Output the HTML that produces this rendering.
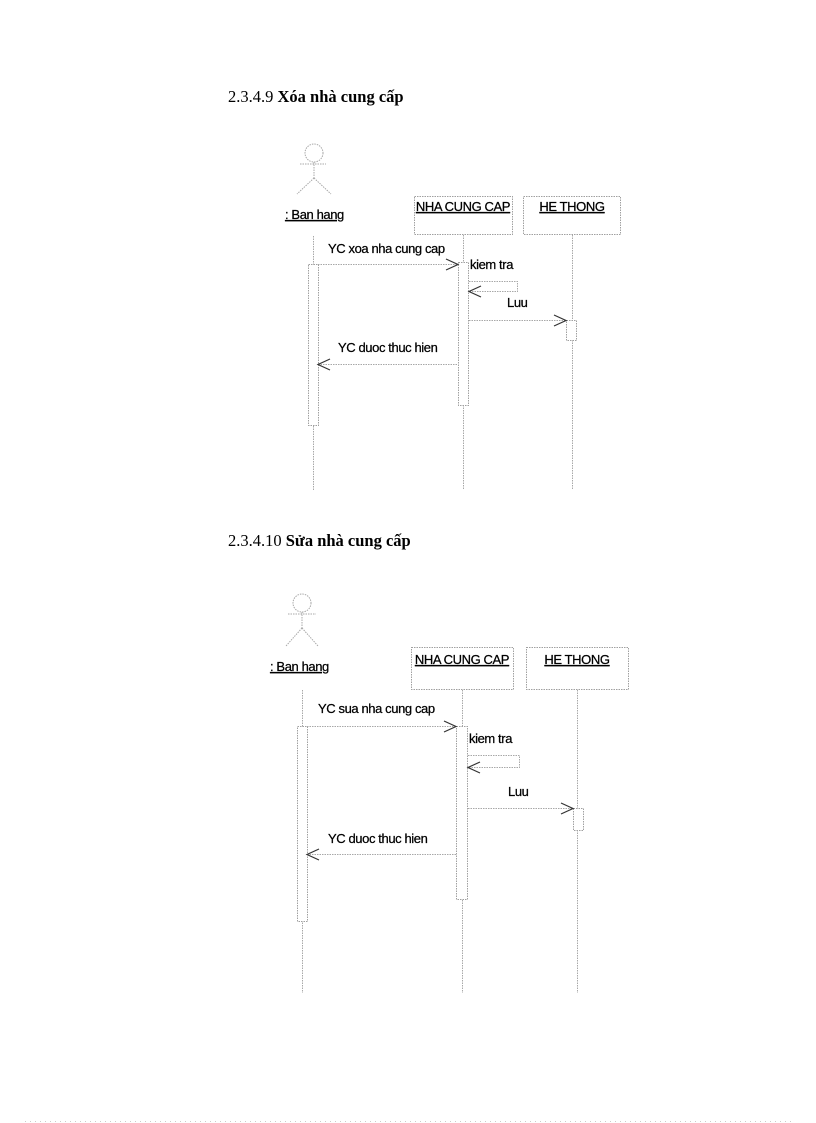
<!DOCTYPE html>
<html><head><meta charset="utf-8"><style>
html,body{margin:0;padding:0;background:#fff;}
svg{display:block;}
.l{stroke:#a8a8a8;stroke-width:1;fill:none;stroke-dasharray:1.5 1;}
.b{stroke:#a0a0a0;stroke-width:1;fill:#fff;stroke-dasharray:1.5 1;}
.a{stroke:#333;stroke-width:1.2;fill:none;}
.t{font-family:"Liberation Sans",Arial,sans-serif;font-size:13px;fill:#000;stroke:#000;stroke-width:0.25;letter-spacing:-0.4px;}
.h{font-family:"Liberation Serif","DejaVu Serif",serif;font-size:16.5px;fill:#000;}
</style></head><body>
<svg width="816" height="1123" viewBox="0 0 816 1123" xmlns="http://www.w3.org/2000/svg">
<text class="h" x="228" y="102">2.3.4.9 <tspan font-weight="bold">Xóa nhà cung cấp</tspan></text>
<text class="h" x="228" y="546">2.3.4.10 <tspan font-weight="bold">Sửa nhà cung cấp</tspan></text>

<g>
<circle class="l" cx="314" cy="153" r="9"/>
<line class="l" x1="300" y1="164" x2="326" y2="164"/>
<line class="l" x1="314" y1="162" x2="314" y2="178"/>
<line class="l" x1="314" y1="178" x2="297" y2="194"/>
<line class="l" x1="314" y1="178" x2="331" y2="194"/>
<text class="t" x="285" y="219" text-decoration="underline">: Ban hang</text>
<rect class="b" x="414.5" y="196.5" width="98" height="38"/>
<rect class="b" x="523.5" y="196.5" width="97" height="38"/>
<text class="t" x="463" y="211" text-anchor="middle" text-decoration="underline">NHA CUNG CAP</text>
<text class="t" x="572" y="211" text-anchor="middle" text-decoration="underline">HE THONG</text>
<line class="l" x1="313.5" y1="236" x2="313.5" y2="490"/>
<line class="l" x1="463.5" y1="235" x2="463.5" y2="490"/>
<line class="l" x1="572.5" y1="235" x2="572.5" y2="490"/>
<rect class="b" x="308.5" y="264.5" width="10" height="161"/>
<rect class="b" x="458.5" y="262.5" width="10" height="143"/>
<rect class="b" x="566.5" y="320.5" width="10" height="20"/>
<line class="l" x1="318" y1="264.5" x2="458" y2="264.5"/>
<path class="a" d="M446 259 L458 264.5 L446 270"/>
<text class="t" x="328" y="253">YC xoa  nha cung cap</text>
<text class="t" x="470" y="269">kiem tra</text>
<path class="l" d="M469 281.5 H517.5 V291.5 H469"/>
<path class="a" d="M481 286 L469 291.5 L481 297"/>
<text class="t" x="507" y="307">Luu</text>
<line class="l" x1="469" y1="320.5" x2="566" y2="320.5"/>
<path class="a" d="M554 315 L566 320.5 L554 326"/>
<text class="t" x="338" y="352">YC duoc thuc hien</text>
<line class="l" x1="318" y1="364.5" x2="458" y2="364.5"/>
<path class="a" d="M330 359 L318 364.5 L330 370"/>
</g>

<g>
<circle class="l" cx="302" cy="603" r="9"/>
<line class="l" x1="288" y1="614" x2="316" y2="614"/>
<line class="l" x1="302" y1="612" x2="302" y2="628"/>
<line class="l" x1="302" y1="628" x2="286" y2="646"/>
<line class="l" x1="302" y1="628" x2="318" y2="646"/>
<text class="t" x="270" y="671" text-decoration="underline">: Ban hang</text>
<rect class="b" x="411.5" y="647.5" width="102" height="42"/>
<rect class="b" x="526.5" y="647.5" width="102" height="42"/>
<text class="t" x="462" y="664" text-anchor="middle" text-decoration="underline">NHA CUNG CAP</text>
<text class="t" x="577" y="664" text-anchor="middle" text-decoration="underline">HE THONG</text>
<line class="l" x1="302.5" y1="690" x2="302.5" y2="993"/>
<line class="l" x1="462.5" y1="690" x2="462.5" y2="993"/>
<line class="l" x1="577.5" y1="690" x2="577.5" y2="993"/>
<rect class="b" x="297.5" y="726.5" width="10" height="195"/>
<rect class="b" x="456.5" y="726.5" width="11" height="173"/>
<rect class="b" x="573.5" y="808.5" width="10" height="22"/>
<line class="l" x1="307" y1="726.5" x2="456" y2="726.5"/>
<path class="a" d="M444 721 L456 726.5 L444 732"/>
<text class="t" x="318" y="713">YC sua nha cung cap</text>
<text class="t" x="469" y="743">kiem tra</text>
<path class="l" d="M468 755.5 H519.5 V767.5 H468"/>
<path class="a" d="M480 762 L468 767.5 L480 773"/>
<text class="t" x="508" y="796">Luu</text>
<line class="l" x1="468" y1="808.5" x2="573" y2="808.5"/>
<path class="a" d="M561 803 L573 808.5 L561 814"/>
<text class="t" x="328" y="843">YC duoc thuc hien</text>
<line class="l" x1="307" y1="854.5" x2="456" y2="854.5"/>
<path class="a" d="M319 849 L307 854.5 L319 860"/>
</g>

<line x1="25" y1="1121.5" x2="792" y2="1121.5" stroke="#ccc" stroke-width="1" stroke-dasharray="1 4"/>
</svg>
</body></html>
